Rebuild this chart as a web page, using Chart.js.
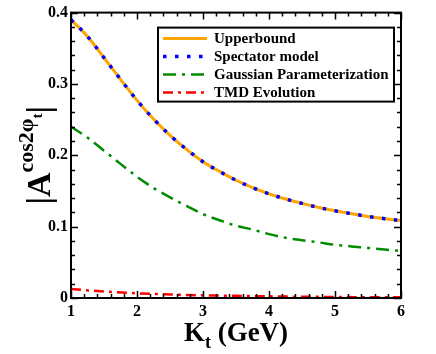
<!DOCTYPE html>
<html>
<head>
<meta charset="utf-8">
<script src="https://cdn.jsdelivr.net/npm/chart.js@4.4.1/dist/chart.umd.min.js"></script>
<style>
  html, body { margin: 0; padding: 0; background: #fff; }
  #wrap { width: 436px; height: 354px; position: relative; }
</style>
</head>
<body>
<div id="wrap"><canvas id="c" width="436" height="354"></canvas></div>
<script>
// ---- data ----
const seriesNames = ['Upperbound', 'Spectator model', 'Gaussian Parameterization', 'TMD Evolution'];
const ktValues = [1, 1.25, 1.5, 1.75, 2, 2.25, 2.5, 2.75, 3, 3.25, 3.5, 3.75, 4, 4.25, 4.5, 4.75, 5, 5.25, 5.5, 5.75, 6];
const upperbound = [0.390, 0.3666, 0.3367, 0.3064, 0.277, 0.251, 0.228, 0.2084, 0.191, 0.1774, 0.165, 0.1546, 0.146, 0.1388, 0.1326, 0.1269, 0.1222, 0.1182, 0.1143, 0.1112, 0.1085];
const spectator  = [0.390, 0.3666, 0.3367, 0.3064, 0.277, 0.251, 0.228, 0.2084, 0.191, 0.1774, 0.165, 0.1546, 0.146, 0.1388, 0.1326, 0.1269, 0.1222, 0.1182, 0.1143, 0.1112, 0.1085];
const gaussian   = [0.240, 0.2248, 0.2065, 0.188, 0.170, 0.1542, 0.141, 0.129, 0.1175, 0.109, 0.1013, 0.096, 0.0895, 0.0845, 0.081, 0.078, 0.0745, 0.0723, 0.0702, 0.068, 0.066];
const ktTmd = [1, 1.5, 2, 2.5, 3, 3.5, 4, 4.5, 5, 5.5, 6];
const tmdEvolution = [0.0125, 0.0092, 0.0066, 0.005, 0.0038, 0.003, 0.0023, 0.0018, 0.0014, 0.0011, 0.0009];
const xTickLabels = ['1', '2', '3', '4', '5', '6'];
const yTickLabels = ['0', '0.1', '0.2', '0.3', '0.4'];
const xTitleMain = 'K', xTitleSub = 't', xTitleRest = ' (GeV)';
const yTitleParts = ['|A', 'cos2φ', 't', '|'];

const FONT = '"Liberation Serif", "Times New Roman", serif';
const pts = (xs, ys) => xs.map((x, i) => ({ x: x, y: ys[i] }));

const frameTicks = {
  id: 'frameTicks',
  afterDatasetsDraw(chart) {
    const { ctx, chartArea: { left, right, top, bottom }, scales: { x, y } } = chart;
    ctx.save();
    ctx.strokeStyle = '#000';
    ctx.lineWidth = 1.5;
    ctx.beginPath();
    for (let i = 0; i <= 25; i++) {
      const v = 1 + i * 0.2;
      const px = Math.round(x.getPixelForValue(v)) + 0.5;
      const len = (i % 5 === 0) ? 7 : 4;
      ctx.moveTo(px, bottom); ctx.lineTo(px, bottom - len);
      ctx.moveTo(px, top); ctx.lineTo(px, top + len);
    }
    for (let i = 0; i <= 20; i++) {
      const v = i * 0.02;
      const py = Math.round(y.getPixelForValue(v)) + 0.5;
      const len = (i % 5 === 0) ? 7 : 4;
      ctx.moveTo(left, py); ctx.lineTo(left + len, py);
      ctx.moveTo(right, py); ctx.lineTo(right - len, py);
    }
    ctx.stroke();
    ctx.lineWidth = 2;
    ctx.strokeRect(left, top, right - left, bottom - top);
    ctx.restore();
  }
};

const legendBox = {
  id: 'legendBox',
  afterDraw(chart) {
    const { ctx, chartArea: { right, top } } = chart;
    const bx2 = right - 7, by1 = top + 15;
    const bx1 = bx2 - 236, by2 = by1 + 74;
    ctx.save();
    ctx.fillStyle = '#fff';
    ctx.fillRect(bx1, by1, bx2 - bx1, by2 - by1);
    ctx.strokeStyle = '#000';
    ctx.lineWidth = 2;
    ctx.strokeRect(bx1, by1, bx2 - bx1, by2 - by1);
    ctx.font = 'bold 15px ' + FONT;
    ctx.textBaseline = 'middle';
    chart.data.datasets.forEach((ds, i) => {
      const yy = by1 + 11 + i * 18;
      ctx.save();
      ctx.strokeStyle = ds.borderColor;
      ctx.lineWidth = ds.borderWidth;
      ctx.setLineDash(ds.borderDash || []);
      ctx.lineCap = 'butt';
      ctx.beginPath();
      ctx.moveTo(bx1 + 5, yy);
      ctx.lineTo(bx1 + 49, yy);
      ctx.stroke();
      ctx.restore();
      ctx.fillStyle = '#000';
      ctx.fillText(ds.label, bx1 + 56, yy + 1);
    });
    ctx.restore();
  }
};

const axisTitles = {
  id: 'axisTitles',
  afterDraw(chart) {
    const { ctx, chartArea: { left, right, top, bottom } } = chart;
    ctx.save();
    ctx.fillStyle = '#000';
    ctx.textBaseline = 'alphabetic';
    // x title
    const fMain = 'bold 27px ' + FONT, fSub = 'bold 18px ' + FONT;
    ctx.font = fMain; const wK = ctx.measureText(xTitleMain).width; const wR = ctx.measureText(xTitleRest).width;
    ctx.font = fSub; const wT = ctx.measureText(xTitleSub).width;
    let x0 = (left + right) / 2 - (wK + wT + wR) / 2;
    const base = 341;
    ctx.font = fMain; ctx.fillText(xTitleMain, x0, base); x0 += wK;
    ctx.font = fSub; ctx.fillText(xTitleSub, x0, base + 7); x0 += wT;
    ctx.font = fMain; ctx.fillText(xTitleRest, x0, base);
    // y title (rotated)
    const fonts = ['bold 34px ' + FONT, 'bold 22px ' + FONT, 'bold 15px ' + FONT, 'bold 34px ' + FONT];
    const offs = [0, -17, -8, 0];
    const widths = yTitleParts.map((t, i) => { ctx.font = fonts[i]; return ctx.measureText(t).width; });
    const total = widths.reduce((a, b) => a + b, 0);
    const cy = (top + bottom) / 2;
    ctx.translate(50, cy + total / 2);
    ctx.rotate(-Math.PI / 2);
    let p = 0;
    yTitleParts.forEach((t, i) => {
      ctx.font = fonts[i];
      ctx.fillText(t, p, offs[i]);
      p += widths[i];
    });
    ctx.restore();
  }
};

new Chart(document.getElementById('c'), {
  type: 'line',
  data: {
    datasets: [
      { label: seriesNames[0], order: 1, data: pts(ktValues, upperbound), borderColor: 'rgb(255,165,0)', borderWidth: 3, pointRadius: 0, cubicInterpolationMode: 'monotone', fill: false },
      { label: seriesNames[1], order: 0, data: pts(ktValues, spectator), borderColor: 'rgb(0,0,255)', borderWidth: 3.5, borderDash: [3.5, 8.5], borderCapStyle: 'butt', pointRadius: 0, cubicInterpolationMode: 'monotone', fill: false },
      { label: seriesNames[2], order: 2, data: pts(ktValues, gaussian), borderColor: 'rgb(0,139,0)', borderWidth: 2.5, borderDash: [13, 6, 3, 6], pointRadius: 0, cubicInterpolationMode: 'monotone', fill: false },
      { label: seriesNames[3], order: 3, data: pts(ktTmd, tmdEvolution), borderColor: 'rgb(255,0,0)', borderWidth: 2.5, borderDash: [10, 5, 3, 5], pointRadius: 0, cubicInterpolationMode: 'monotone', fill: false }
    ]
  },
  options: {
    responsive: false,
    animation: false,
    layout: { padding: { left: 0, top: 7, right: 35, bottom: 0 } },
    plugins: { legend: { display: false }, tooltip: { enabled: false } },
    scales: {
      x: {
        type: 'linear', min: 1, max: 6,
        grid: { display: false, drawTicks: false },
        border: { display: false },
        afterFit: s => { s.height = 56; },
        afterBuildTicks: s => { s.ticks = xTickLabels.map(t => ({ value: Number(t) })); },
        ticks: { padding: 4, color: '#000', font: { family: FONT, weight: 'bold', size: 16 }, maxRotation: 0,
                 callback: (v) => xTickLabels.find(t => Number(t) === v) }
      },
      y: {
        type: 'linear', min: 0, max: 0.4,
        grid: { display: false, drawTicks: false },
        border: { display: false },
        afterFit: s => { s.width = 71; },
        afterBuildTicks: s => { s.ticks = yTickLabels.map(t => ({ value: Number(t) })); },
        ticks: { padding: 3, color: '#000', font: { family: FONT, weight: 'bold', size: 16 },
                 callback: (v) => yTickLabels.find(t => Math.abs(Number(t) - v) < 1e-9) }
      }
    }
  },
  plugins: [frameTicks, legendBox, axisTitles]
});
</script>
</body>
</html>
